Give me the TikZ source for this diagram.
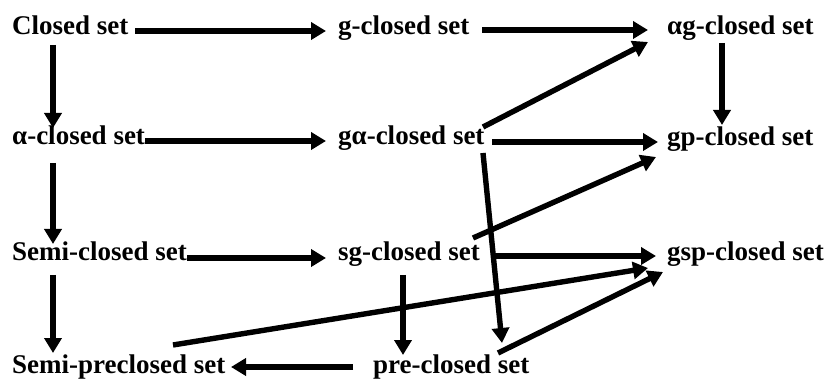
\documentclass[tikz,border=0pt]{standalone}
\usepackage{fontspec}
\setmainfont{Liberation Serif}
\usetikzlibrary{arrows.meta,calc}
\tikzset{
  setname/.style={anchor=base west, inner sep=0pt, font=\fontsize{27}{27}\selectfont\bfseries},
  imp/.style={line width=5.4pt, -{Triangle[length=15pt,width=17pt]}},
}
\newcommand{\at}[3]{($(#1.base west)+(#2,#3)$)}
\begin{document}
\begin{tikzpicture}[x=1pt,y=-1pt]
\useasboundingbox (0,0) rectangle (827,379);

% the eleven classes of sets
\node[setname] (A) at (12,35)  {Closed set};
\node[setname] (B) at (338,35) {g-closed set};
\node[setname] (C) at (667,35) {αg-closed set};
\node[setname] (D) at (12,145) {α-closed set};
\node[setname] (E) at (338,145) {gα-closed set};
\node[setname] (F) at (667,146) {gp-closed set};
\node[setname] (G) at (12,261) {Semi-closed set};
\node[setname] (H) at (338,261) {sg-closed set};
\node[setname] (I) at (667,261) {gsp-closed set};
\node[setname] (J) at (12,373) {Semi-preclosed set};
\node[setname] (K) at (373,373) {pre-closed set};

% implications
\draw[imp] \at{A}{123}{-4}  -- \at{B}{-12}{-4};
\draw[imp] \at{B}{144}{-5}  -- \at{C}{-19}{-5};
\draw[imp] \at{A}{41}{10}   -- \at{D}{41}{-17};
\draw[imp] \at{D}{133}{-4}  -- \at{E}{-12}{-4};
\draw[imp] \at{E}{145}{-18} -- \at{C}{-19}{7};
\draw[imp] \at{E}{154}{-3}  -- \at{F}{-9}{-4};
\draw[imp] \at{C}{55}{8}    -- \at{F}{55}{-21};
\draw[imp] \at{E}{145}{8}   -- \at{K}{129}{-30};
\draw[imp] \at{H}{135}{-23} -- \at{F}{-11}{11};
\draw[imp] \at{D}{41}{18}   -- \at{G}{41}{-17};
\draw[imp] \at{G}{175}{-3}  -- \at{H}{-12}{-3};
\draw[imp] \at{H}{155}{-5}  -- \at{I}{-11}{-5};
\draw[imp] \at{G}{41}{14}   -- \at{J}{41}{-20};
\draw[imp] \at{H}{65}{14}   -- \at{K}{30}{-18};
\draw[imp] \at{J}{161}{-28} -- \at{I}{-19}{7};
\draw[imp] \at{K}{125}{-20} -- \at{I}{-4}{11};
\draw[imp] \at{K}{-20}{-6}  -- \at{J}{219}{-6};
\end{tikzpicture}
\end{document}
